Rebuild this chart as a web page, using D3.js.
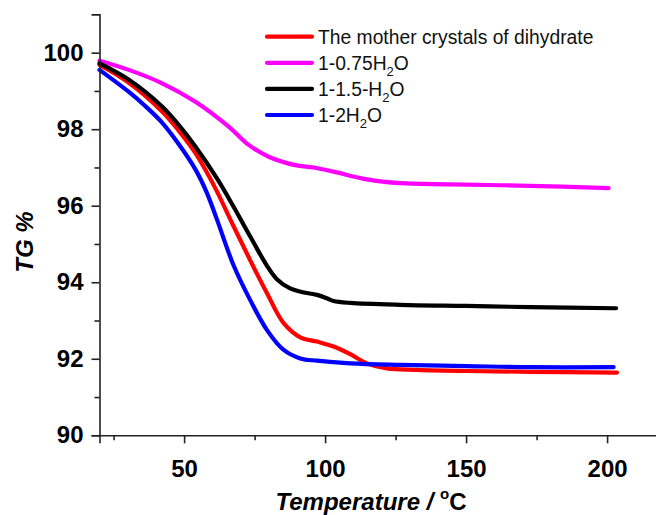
<!DOCTYPE html>
<html>
<head>
<meta charset="utf-8">
<script src="https://cdn.jsdelivr.net/npm/d3@7"></script>
<style>
  html, body { margin: 0; padding: 0; background: #fff; }
  svg { display: block; font-family: Arial, "Liberation Sans", sans-serif; }
</style>
</head>
<body>
<svg id="chart" width="656" height="515"></svg>
<script>
// Thermogravimetric curves: temperature (°C) vs remaining mass (TG %)
const seriesNames = ["The mother crystals of dihydrate", "1-0.75H2O", "1-1.5-H2O", "1-2H2O"];
const seriesColors = ["#ff0000", "#ff00ff", "#000000", "#0000ff"];

const motherTemp = [20, 30.3, 42.1, 48, 53.9, 58, 61.6, 67.5, 73.4, 79.4, 85.3, 91.2, 97.1, 103, 108.9, 114.8, 121.9, 132.6, 150, 172.7, 203.5];
const motherTG   = [99.68, 99.22, 98.47, 97.97, 97.39, 96.88, 96.38, 95.47, 94.58, 93.71, 92.93, 92.56, 92.45, 92.32, 92.12, 91.88, 91.75, 91.71, 91.68, 91.66, 91.64];

const h075Temp = [20, 30.4, 42.2, 54, 65.8, 72.9, 80, 89.4, 95.9, 103, 114.8, 126.6, 144.3, 172.7, 200.5];
const h075TG   = [99.79, 99.55, 99.2, 98.72, 98.07, 97.59, 97.28, 97.06, 97.0, 96.89, 96.69, 96.59, 96.56, 96.52, 96.46];

const h15Temp = [20, 30.3, 42.1, 48, 54, 61.6, 67.5, 73.4, 79.4, 82.9, 87.6, 92, 97.1, 100.6, 103, 108.9, 126.6, 150, 172.7, 203.2];
const h15TG   = [99.72, 99.3, 98.6, 98.12, 97.55, 96.72, 95.98, 95.2, 94.43, 94.08, 93.84, 93.74, 93.67, 93.58, 93.51, 93.46, 93.41, 93.38, 93.35, 93.32];

const h2Temp = [20, 30.3, 36, 42.1, 48, 54, 58, 61.6, 67.5, 73.4, 79.4, 85.3, 91.2, 97.1, 108.9, 126.6, 150, 172.7, 202.3];
const h2TG   = [99.55, 98.98, 98.62, 98.18, 97.62, 96.95, 96.35, 95.65, 94.45, 93.54, 92.75, 92.23, 92.01, 91.95, 91.88, 91.84, 91.81, 91.78, 91.78];

const xTicksMajor = [50, 100, 150, 200];
const xTicksMinor = [25, 75, 125, 175];
const yTicksMajor = [90, 92, 94, 96, 98, 100];
const yTicksMinor = [91, 93, 95, 97, 99];

const series = [
  { name: seriesNames[0], color: seriesColors[0], t: motherTemp, v: motherTG },
  { name: seriesNames[1], color: seriesColors[1], t: h075Temp, v: h075TG },
  { name: seriesNames[2], color: seriesColors[2], t: h15Temp, v: h15TG },
  { name: seriesNames[3], color: seriesColors[3], t: h2Temp, v: h2TG }
];

const svg = d3.select("#chart");

const x = d3.scaleLinear().domain([20, 220]).range([99.5, 663.5]);
const y = d3.scaleLinear().domain([90, 101]).range([435.3, 14.4]);

const axisColor = "#222";

// curves
const line = d3.line()
  .x(d => x(d[0]))
  .y(d => y(d[1]))
  .curve(d3.curveCatmullRom.alpha(0.5));

svg.append("g").selectAll("path")
  .data(series)
  .join("path")
  .attr("d", s => line(s.t.map((t, i) => [t, s.v[i]])))
  .attr("fill", "none")
  .attr("stroke", s => s.color)
  .attr("stroke-width", 4.2)
  .attr("stroke-linejoin", "round")
  .attr("stroke-linecap", "round");

// y axis
const yAxis = svg.append("g").attr("transform", `translate(${x(20)},0)`);
yAxis.call(d3.axisLeft(y).tickValues(yTicksMajor).tickSize(8).tickPadding(8).tickFormat(d3.format("d")));
yAxis.append("g").call(d3.axisLeft(y).tickValues(yTicksMinor).tickSize(5).tickFormat(""))
  .select(".domain").remove();

// x axis
const xAxis = svg.append("g").attr("transform", `translate(0,${y(90)})`);
xAxis.call(d3.axisBottom(x).tickValues(xTicksMajor).tickSize(8).tickPadding(17).tickFormat(d3.format("d")));
xAxis.append("g").call(d3.axisBottom(x).tickValues(xTicksMinor).tickSize(5).tickFormat(""))
  .select(".domain").remove();

svg.selectAll(".domain").attr("stroke", axisColor).attr("stroke-width", 1.6);
svg.selectAll(".tick line").attr("stroke", axisColor).attr("stroke-width", 1.6);
svg.selectAll(".tick text")
  .attr("font-family", "Arial, 'Liberation Sans', sans-serif")
  .attr("font-size", 24)
  .attr("font-weight", "bold")
  .attr("fill", "#000");

// axis titles
const xTitle = svg.append("text")
  .attr("x", 371).attr("y", 510)
  .attr("text-anchor", "middle")
  .attr("font-size", 24).attr("font-weight", "bold").attr("font-style", "italic");
xTitle.append("tspan").text("Temperature / ");
xTitle.append("tspan").attr("font-size", 15).attr("font-style", "normal").attr("dy", -11).text("o");
xTitle.append("tspan").attr("dy", 11).attr("font-style", "normal").text("C");

svg.append("text")
  .attr("transform", "translate(33,242) rotate(-90)")
  .attr("text-anchor", "middle")
  .attr("font-size", 24).attr("font-weight", "bold").attr("font-style", "italic")
  .text("TG %");

// legend
const legend = svg.append("g");
series.forEach((s, i) => {
  const ly = 36.7 + i * 26.1;
  legend.append("line")
    .attr("x1", 267).attr("x2", 312)
    .attr("y1", ly).attr("y2", ly)
    .attr("stroke", s.color).attr("stroke-width", 4.2).attr("stroke-linecap", "round");
  const txt = legend.append("text")
    .attr("x", 318).attr("y", ly + 6.8)
    .attr("font-size", 19.3).attr("fill", "#111");
  const m = s.name.match(/^(.*H)2(O)$/);
  if (m) {
    txt.append("tspan").text(m[1]);
    txt.append("tspan").attr("font-size", 13).attr("dy", 6).text("2");
    txt.append("tspan").attr("dy", -6).text(m[2]);
  } else {
    txt.text(s.name);
  }
});
</script>
</body>
</html>
